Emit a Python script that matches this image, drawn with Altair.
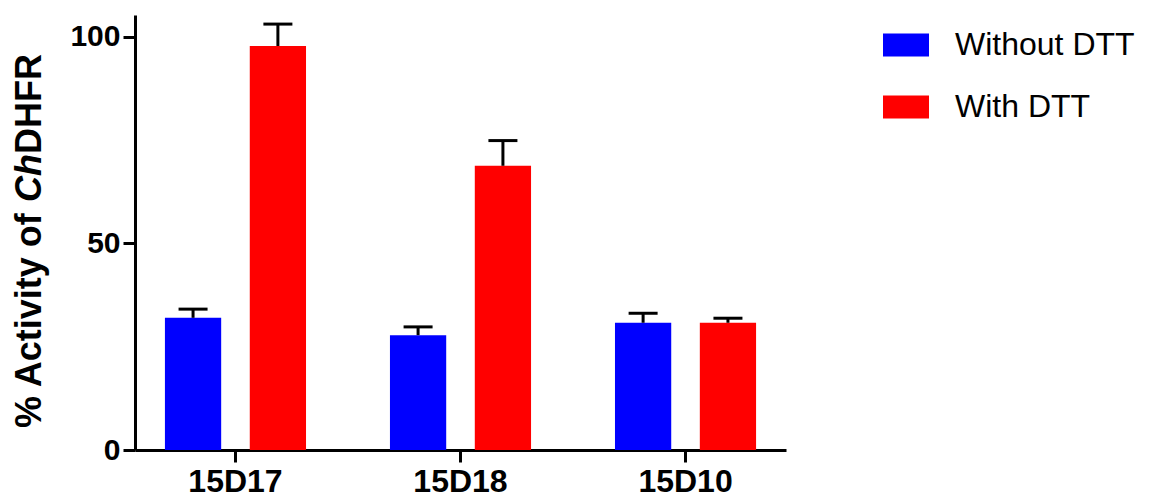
import altair as alt
import pandas as pd

# Samples and treatment conditions
samples = ["15D17", "15D18", "15D10"]
conditions = ["Without DTT", "With DTT"]

# Mean % activity and SEM for each condition
without_dtt = [32.0, 27.8, 30.8]
without_dtt_sem = [2.1, 2.0, 2.3]
with_dtt = [97.8, 68.8, 30.8]
with_dtt_sem = [5.3, 6.1, 1.1]

bar_colors = ["#0000ff", "#ff0000"]
y_ticks = [0, 50, 100]

# Y-axis title pieces (the organism prefix is italic)
title_parts = ["% Activity of ", "Ch", "DHFR"]

rows = []
for cond, means, sems in [(conditions[0], without_dtt, without_dtt_sem),
                          (conditions[1], with_dtt, with_dtt_sem)]:
    for s, m, e in zip(samples, means, sems):
        rows.append({"sample": s, "condition": cond, "mean": m, "upper": m + e})
df = pd.DataFrame(rows)

FONT = "Liberation Sans"
W, H = 651, 435

x_enc = alt.X(
    "sample:N",
    sort=samples,
    scale=alt.Scale(paddingInner=0.373, paddingOuter=0.133),
    axis=alt.Axis(
        title=None, labelAngle=0, labelFont=FONT, labelFontSize=32,
        labelFontWeight="bold", labelColor="black", labelPadding=4,
        tickSize=12, tickWidth=3, tickColor="black",
        domainWidth=3, domainColor="black",
    ),
)
xo_enc = alt.XOffset(
    "condition:N", sort=conditions,
    scale=alt.Scale(paddingInner=0.337, paddingOuter=0),
)
y_enc = alt.Y(
    "mean:Q",
    scale=alt.Scale(domain=[0, 105.3], nice=False, zero=True),
    axis=alt.Axis(
        title=None, values=y_ticks, labelFont=FONT, labelFontSize=30,
        labelFontWeight="bold", labelColor="black", labelPadding=3,
        tickSize=12, tickWidth=3, tickColor="black",
        domainWidth=3, domainColor="black",
    ),
)

base = alt.Chart(df)

bars = base.mark_bar(opacity=1).encode(
    x=x_enc,
    xOffset=xo_enc,
    y=y_enc,
    color=alt.Color(
        "condition:N",
        scale=alt.Scale(domain=conditions, range=bar_colors),
        legend=alt.Legend(
            title=None, orient="none", legendX=748, legendY=7, padding=0,
            symbolType="M-1,-0.5H1V0.5H-1Z", symbolSize=2116,
            symbolStrokeWidth=0, symbolOpacity=1,
            labelFont=FONT, labelFontSize=32, labelColor="black",
            labelOffset=26, rowPadding=23, labelLimit=400,
        ),
    ),
)

stems = base.mark_rule(color="black", strokeWidth=3).encode(
    x=alt.X("sample:N", sort=samples),
    xOffset=alt.XOffset("condition:N", sort=conditions),
    y="mean:Q",
    y2="upper:Q",
)

caps = base.mark_tick(color="black", thickness=3, size=29, opacity=1).encode(
    x=alt.X("sample:N", sort=samples),
    xOffset=alt.XOffset("condition:N", sort=conditions),
    y="upper:Q",
)

# Rotated y-axis title assembled from three runs of text
fs = 36
title_style = dict(angle=270, align="left", baseline="middle", font=FONT,
                   fontSize=fs, fontWeight="bold", color="black")
title_layers = []
y_start = 413
for text, width_em, style in [(title_parts[0], 6.279, "normal"),
                              (title_parts[1], 1.333, "italic"),
                              (title_parts[2], 2.777, "normal")]:
    title_layers.append(
        alt.Chart(pd.DataFrame({"label": [text]}))
        .mark_text(fontStyle=style, **title_style)
        .encode(x=alt.value(-105), y=alt.value(y_start), text="label:N")
    )
    y_start -= width_em * fs

chart = (
    alt.layer(bars, stems, caps, *title_layers)
    .properties(
        width=W, height=H,
        autosize=alt.AutoSizeParams(type="none"),
        padding={"left": 135, "top": 15, "right": 373, "bottom": 52},
        background="white",
    )
    .configure_view(stroke=None)
    .configure_axis(grid=False)
)

chart.save("out.html", embed_options={"renderer": "svg", "actions": False})
